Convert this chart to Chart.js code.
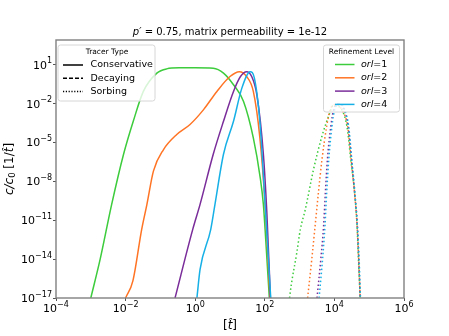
<!DOCTYPE html>
<html>
<head>
<meta charset="utf-8">
<script src="https://cdn.jsdelivr.net/npm/chart.js@4/dist/chart.umd.min.js"></script>
<style>
  body { margin: 0; background: #fff; }
  canvas { display: block; }
</style>
</head>
<body>
<canvas id="chart" width="449" height="336"></canvas>
<script>
// refinement levels and tracer types
const orlLevels = [1, 2, 3, 4];
const tracerTypes = ["Conservative", "Decaying", "Sorbing"];

// tick exponents
const xTickExp = [-4, -2, 0, 2, 4, 6];
const yTickExp = [-17, -14, -11, -8, -5, -2, 1];

// conservative breakthrough curves (t-hat, c/c0), one array per orl
const consTime = [
  [1e-3, 1.86e-3, 3.98e-3, 8.7e-3, 1.66e-2, 3.24e-2, 7.9e-2, 0.151, 0.4, 1, 3.3, 6.5, 12.6, 24.5, 46.8, 74, 91, 102, 135],
  [1e-2, 1.62e-2, 2.9e-2, 4.1e-2, 6.3e-2, 0.123, 0.295, 0.71, 1.74, 4.2, 10, 18.6, 30, 46.8, 72, 102, 141],
  [0.263, 0.85, 1.38, 3.3, 6.5, 12.6, 20, 30, 42, 59, 91, 115, 145],
  [1.12, 1.38, 2.8, 3.7, 6.5, 12.6, 21.9, 38, 50, 72, 102, 148]
];
const consConc = [
  [1e-17, 1e-14, 1.7e-10, 1.2e-6, 4.4e-4, 8.9e-2, 2.3, 4.9, 5.9, 6.0, 5.5, 2.3, 0.29, 1.5e-2, 2.3e-5, 1.9e-8, 1.7e-10, 2e-12, 1e-17],
  [1e-17, 2.1e-16, 2e-12, 1.7e-10, 6.3e-8, 2.9e-6, 4.2e-5, 2.5e-4, 3.5e-3, 8.9e-2, 1.26, 3.0, 1.26, 8.9e-2, 2.5e-5, 1.6e-10, 1e-17],
  [1e-17, 2e-12, 1.7e-10, 1.26e-6, 4.4e-4, 8.9e-2, 1.26, 3.0, 1.26, 5e-2, 1.26e-6, 3e-11, 1e-17],
  [1e-17, 1.6e-15, 2e-12, 1.7e-10, 1.26e-6, 4.4e-4, 0.16, 3.0, 1.0, 4.4e-4, 1.7e-10, 1e-17]
];

// sorbing breakthrough curves
const sorbTime = [
  [513, 575, 832, 1050, 1450, 2500, 4400, 6800, 9500, 13200, 22900, 29500, 38000, 44700, 49000, 55000],
  [1700, 2240, 2800, 3470, 4400, 6000, 7600, 11200, 16600, 24000, 30200, 38000, 44700, 50000, 55000],
  [3160, 4070, 4900, 5500, 6300, 7900, 9500, 13500, 19000, 25000, 31000, 38000, 45700, 50000, 55000],
  [3630, 4570, 5370, 6000, 6900, 8500, 10200, 14500, 20000, 25700, 31600, 38900, 45700, 51300, 56200]
];
const sorbConc = [
  [1e-17, 1e-16, 3.2e-14, 2e-12, 6.3e-11, 7.9e-8, 3.2e-5, 1.05e-3, 7.9e-3, 6.3e-3, 1.8e-4, 5e-7, 1.35e-9, 4e-12, 1e-14, 1e-17],
  [1e-17, 1e-14, 4e-12, 1.35e-9, 5e-7, 1.8e-4, 3.5e-3, 8.9e-3, 3.2e-3, 1.8e-4, 5e-7, 1.35e-9, 4e-12, 1e-14, 1e-17],
  [1e-17, 1e-14, 4e-12, 1.35e-9, 5e-7, 1.8e-4, 3.5e-3, 1e-2, 3.2e-3, 1.8e-4, 5e-7, 1.35e-9, 4e-12, 1e-14, 1e-17],
  [1e-17, 1e-14, 4e-12, 1.35e-9, 5e-7, 1.8e-4, 3.5e-3, 1e-2, 3.2e-3, 1.8e-4, 5e-7, 1.35e-9, 4e-12, 1e-14, 1e-17]
];

const colors = ["#3ccc3c", "#ff7424", "#7a2d9a", "#17b0e6"];
const FONT = "'DejaVu Sans', sans-serif";

const toPoints = (ts, cs) => ts.map((t, i) => ({ x: t, y: cs[i] }));

const datasets = [];
orlLevels.forEach((lvl, i) => {
  datasets.push({
    label: "orl=" + lvl + " conservative",
    data: toPoints(consTime[i], consConc[i]),
    borderColor: colors[i],
    borderWidth: 1.5,
    pointRadius: 0,
    cubicInterpolationMode: "monotone",
    order: 10 - i
  });
  datasets.push({
    label: "orl=" + lvl + " sorbing",
    data: toPoints(sorbTime[i], sorbConc[i]),
    borderColor: colors[i],
    borderWidth: 1.5,
    borderDash: [1.5, 2.5],
    pointRadius: 0,
    cubicInterpolationMode: "monotone",
    order: 10 - i
  });
});

// draw a list of text runs with different fonts
function drawRuns(ctx, runs, x, y, align) {
  let total = 0;
  runs.forEach(r => { ctx.font = r.font; total += ctx.measureText(r.text).width; });
  let cx = align === "center" ? x - total / 2 : align === "right" ? x - total : x;
  ctx.textAlign = "left";
  runs.forEach(r => {
    ctx.font = r.font;
    ctx.fillText(r.text, cx, y + (r.dy || 0));
    cx += ctx.measureText(r.text).width;
  });
}

const powRuns = (e) => [
  { text: "10", font: "11px " + FONT },
  { text: String(e).replace("-", "\u2212"), font: "8px " + FONT, dy: -4.5 }
];

function legendBox(ctx, x, y, w, h) {
  ctx.beginPath();
  ctx.roundRect(x, y, w, h, 2.5);
  ctx.fillStyle = "rgba(255,255,255,0.8)";
  ctx.fill();
  ctx.strokeStyle = "#d6d6d6";
  ctx.lineWidth = 1;
  ctx.stroke();
}

const decorations = {
  id: "decorations",
  afterDraw(chart) {
    const { ctx, chartArea: a, scales } = chart;
    ctx.save();
    ctx.strokeStyle = "#808080";
    ctx.lineWidth = 1.4;
    ctx.strokeRect(a.left, a.top, a.right - a.left, a.bottom - a.top);

    ctx.fillStyle = "#000";
    ctx.textBaseline = "middle";

    // tick labels placed through the scales
    xTickExp.forEach(e => {
      const px = scales.x.getPixelForValue(Math.pow(10, e));
      drawRuns(ctx, powRuns(e), px, a.bottom + 11, "center");
    });
    yTickExp.forEach(e => {
      const py = scales.y.getPixelForValue(Math.pow(10, e));
      drawRuns(ctx, powRuns(e), a.left - 4, py + 1, "right");
    });

    // title
    drawRuns(ctx, [
      { text: "p\u2032", font: "italic 10px " + FONT },
      { text: " = 0.75, matrix permeability = 1e-12", font: "10px " + FONT }
    ], (a.left + a.right) / 2, 32, "center");

    // x label
    drawRuns(ctx, [
      { text: "[", font: "12px " + FONT },
      { text: "t\u0302", font: "italic 12px " + FONT },
      { text: "]", font: "12px " + FONT }
    ], (a.left + a.right) / 2, 326, "center");

    // y label
    ctx.save();
    ctx.translate(10, (a.top + a.bottom) / 2);
    ctx.rotate(-Math.PI / 2);
    drawRuns(ctx, [
      { text: "c/c", font: "italic 12px " + FONT },
      { text: "0", font: "8.5px " + FONT, dy: 3 },
      { text: " [1/", font: "12px " + FONT },
      { text: "t\u0302", font: "italic 12px " + FONT },
      { text: "]", font: "12px " + FONT }
    ], 0, 0, "center");
    ctx.restore();

    // tracer type legend
    legendBox(ctx, 58, 45, 97, 56);
    ctx.fillStyle = "#000";
    ctx.font = "7.5px " + FONT;
    ctx.textAlign = "center";
    ctx.fillText("Tracer Type", 107, 52.5);
    const dashes = [[], [4, 2], [1.2, 1.6]];
    tracerTypes.forEach((name, i) => {
      const yy = 65 + i * 13.3;
      ctx.beginPath();
      ctx.setLineDash(dashes[i]);
      ctx.strokeStyle = "#000";
      ctx.lineWidth = 1.5;
      ctx.moveTo(63, yy);
      ctx.lineTo(83, yy);
      ctx.stroke();
      ctx.setLineDash([]);
      ctx.font = "9.5px " + FONT;
      ctx.textAlign = "left";
      ctx.fillText(name, 90.5, yy);
    });

    // refinement level legend
    legendBox(ctx, 323.5, 45, 76, 67);
    ctx.fillStyle = "#000";
    ctx.font = "7.5px " + FONT;
    ctx.textAlign = "center";
    ctx.fillText("Refinement Level", 361.5, 52);
    orlLevels.forEach((lvl, i) => {
      const yy = 64.5 + i * 13.3;
      ctx.beginPath();
      ctx.strokeStyle = colors[i];
      ctx.lineWidth = 1.5;
      ctx.moveTo(335, yy);
      ctx.lineTo(354.5, yy);
      ctx.stroke();
      ctx.fillStyle = "#000";
      drawRuns(ctx, [
        { text: "orl", font: "italic 9.5px " + FONT },
        { text: "=" + lvl, font: "9.5px " + FONT }
      ], 361, yy, "left");
    });
    ctx.restore();
  }
};

new Chart(document.getElementById("chart"), {
  type: "line",
  data: { datasets },
  options: {
    responsive: false,
    animation: false,
    layout: { padding: { top: 40, right: 45, left: 0, bottom: 0 } },
    plugins: { legend: { display: false }, tooltip: { enabled: false } },
    scales: {
      x: {
        type: "logarithmic",
        min: 1e-4,
        max: 1e6,
        afterBuildTicks: s => { s.ticks = xTickExp.map(e => ({ value: Math.pow(10, e) })); },
        afterFit: s => { s.height = 38; },
        grid: { drawOnChartArea: false, tickLength: 3, color: "#555" },
        border: { display: false },
        ticks: { callback: () => "", autoSkip: false, maxRotation: 0 }
      },
      y: {
        type: "logarithmic",
        min: 1e-17,
        max: 830,
        afterBuildTicks: s => { s.ticks = yTickExp.map(e => ({ value: Math.pow(10, e) })); },
        afterFit: s => { s.width = 56; },
        grid: { drawOnChartArea: false, tickLength: 3, color: "#555" },
        border: { display: false },
        ticks: { callback: () => "", autoSkip: false }
      }
    }
  },
  plugins: [decorations]
});
</script>
</body>
</html>
